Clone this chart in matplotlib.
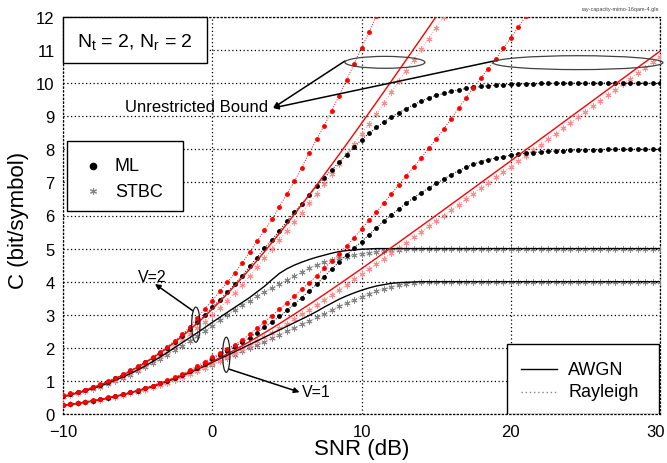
import numpy as np
import matplotlib
matplotlib.use("Agg")
import matplotlib.pyplot as plt
import matplotlib.transforms as mtransforms
from matplotlib.patches import Rectangle, Ellipse

plt.rcParams['font.family'] = ['Liberation Sans', 'DejaVu Sans']
plt.rcParams['mathtext.fontset'] = 'custom'
plt.rcParams['mathtext.rm'] = 'Liberation Sans'
plt.rcParams['mathtext.it'] = 'Liberation Sans:italic'

# ---------------- data ----------------
snr_db = np.arange(-10, 30.5, 0.5)

# V=2 group
v2_unres_ray_ml = [0.56, 0.62, 0.67, 0.74, 0.82, 0.90, 0.99, 1.09, 1.20, 1.32, 1.44, 1.58, 1.72, 1.87,
                   2.04, 2.22, 2.41, 2.63, 2.90, 3.18, 3.43, 3.71, 3.98, 4.25, 4.57, 4.89, 5.22, 5.56,
                   5.88, 6.27, 6.65, 7.03, 7.45, 7.89, 8.31, 8.72, 9.17, 9.62, 10.10, 10.58, 11.07,
                   11.54, 12.03]
v2_unres_awgn = [0.526, 0.584, 0.648, 0.718, 0.794, 0.878, 0.968, 1.068, 1.174, 1.290, 1.414, 1.548,
                 1.690, 1.842, 2.004, 2.174, 2.356, 2.546, 2.744, 2.952, 3.170, 3.396, 3.630, 3.872,
                 4.120, 4.376, 4.638, 4.908, 5.182, 5.460, 5.746, 6.034, 6.328, 6.624, 6.924, 7.228,
                 7.536, 7.844, 8.156, 8.470, 8.784, 9.102, 9.420, 9.742, 10.062, 10.384, 10.708,
                 11.034, 11.358, 11.684, 12.010, 12.338]
v2_unres_ray_stbc = [0.52, 0.58, 0.64, 0.71, 0.78, 0.86, 0.95, 1.04, 1.14, 1.25, 1.37, 1.49, 1.62, 1.76,
                     1.91, 2.06, 2.23, 2.41, 2.59, 2.79, 2.99, 3.21, 3.43, 3.66, 3.91, 4.17, 4.43, 4.71,
                     4.99, 5.26, 5.54, 5.81, 6.08, 6.37, 6.66, 6.95, 7.25, 7.55, 7.86, 8.16, 8.47, 8.77,
                     9.06, 9.39, 9.73, 10.07, 10.38, 10.70, 11.03, 11.35, 11.68, 12.01, 12.33]
v2_ray_ml = [0.54, 0.60, 0.66, 0.73, 0.81, 0.89, 0.98, 1.08, 1.19, 1.30, 1.43, 1.56, 1.70, 1.85, 2.01,
             2.18, 2.37, 2.56, 2.77, 2.99, 3.22, 3.45, 3.68, 3.92, 4.18, 4.46, 4.73, 5.01, 5.27, 5.54,
             5.83, 6.10, 6.36, 6.62, 6.88, 7.13, 7.38, 7.61, 7.84, 8.07, 8.29, 8.48, 8.66, 8.83, 8.98,
             9.11, 9.23, 9.35, 9.46, 9.55, 9.63, 9.69, 9.75, 9.80, 9.84, 9.87, 9.90, 9.92, 9.94, 9.95,
             9.96, 9.97, 9.98, 9.98, 9.99, 9.99, 10.0, 10.0, 10.0, 10.0, 10.0, 10.0, 10.0, 10.0, 10.0,
             10.0, 10.0, 10.0, 10.0, 10.0, 10.0]
v2_awgn = [0.52, 0.58, 0.64, 0.70, 0.77, 0.85, 0.93, 1.02, 1.12, 1.22, 1.33, 1.45, 1.58, 1.72, 1.86,
           2.01, 2.16, 2.31, 2.46, 2.61, 2.77, 2.92, 3.07, 3.22, 3.37, 3.52, 3.69, 3.86, 4.06, 4.25,
           4.39, 4.50, 4.59, 4.67, 4.74, 4.80, 4.86, 4.91, 4.94, 4.96, 4.98, 4.99, 5.0, 5.0, 5.0, 5.0,
           5.0, 5.0, 5.0, 5.0, 5.0, 5.0, 5.0, 5.0, 5.0, 5.0, 5.0, 5.0, 5.0, 5.0, 5.0, 5.0, 5.0, 5.0,
           5.0, 5.0, 5.0, 5.0, 5.0, 5.0, 5.0, 5.0, 5.0, 5.0, 5.0, 5.0, 5.0, 5.0, 5.0, 5.0, 5.0]
v2_ray_stbc = [0.51, 0.57, 0.63, 0.69, 0.76, 0.83, 0.91, 1.00, 1.09, 1.19, 1.30, 1.41, 1.53, 1.66,
               1.79, 1.93, 2.07, 2.21, 2.36, 2.51, 2.66, 2.83, 2.99, 3.15, 3.30, 3.43, 3.56, 3.69,
               3.81, 3.93, 4.05, 4.17, 4.29, 4.41, 4.51, 4.59, 4.65, 4.71, 4.76, 4.81, 4.85, 4.88,
               4.91, 4.93, 4.95, 4.97, 4.98, 4.99, 5.0, 5.0, 5.0, 5.0, 5.0, 5.0, 5.0, 5.0, 5.0, 5.0,
               5.0, 5.0, 5.0, 5.0, 5.0, 5.0, 5.0, 5.0, 5.0, 5.0, 5.0, 5.0, 5.0, 5.0, 5.0, 5.0, 5.0,
               5.0, 5.0, 5.0, 5.0, 5.0, 5.0]

# V=1 group
v1_unres_ray_ml = [0.27, 0.30, 0.33, 0.37, 0.41, 0.45, 0.50, 0.55, 0.60, 0.66, 0.72, 0.79, 0.86, 0.94,
                   1.03, 1.12, 1.22, 1.33, 1.45, 1.58, 1.71, 1.84, 1.97, 2.09, 2.24, 2.41, 2.59, 2.78,
                   2.97, 3.16, 3.36, 3.56, 3.77, 3.97, 4.18, 4.40, 4.62, 4.85, 5.08, 5.33, 5.59, 5.85,
                   6.10, 6.38, 6.65, 6.93, 7.20, 7.47, 7.74, 8.03, 8.30, 8.61, 8.92, 9.24, 9.55, 9.86,
                   10.15, 10.44, 10.73, 11.05, 11.36, 11.69, 12.02]
v1_unres_awgn = [0.263, 0.292, 0.324, 0.359, 0.397, 0.439, 0.484, 0.534, 0.587, 0.645, 0.707, 0.774,
                 0.845, 0.921, 1.002, 1.087, 1.178, 1.273, 1.372, 1.476, 1.585, 1.698, 1.815, 1.936,
                 2.060, 2.188, 2.319, 2.454, 2.591, 2.730, 2.873, 3.017, 3.164, 3.312, 3.462, 3.614,
                 3.768, 3.922, 4.078, 4.235, 4.392, 4.551, 4.710, 4.871, 5.031, 5.192, 5.354, 5.517,
                 5.679, 5.842, 6.005, 6.169, 6.333, 6.497, 6.662, 6.826, 6.991, 7.156, 7.321, 7.486,
                 7.651, 7.817, 7.982, 8.147, 8.313, 8.478, 8.644, 8.810, 8.976, 9.142, 9.307, 9.473,
                 9.639, 9.805, 9.970, 10.136, 10.303, 10.469, 10.635, 10.801, 10.967]
v1_unres_ray_stbc = [0.26, 0.29, 0.32, 0.35, 0.39, 0.43, 0.47, 0.52, 0.57, 0.62, 0.68, 0.74, 0.81, 0.88,
                     0.95, 1.03, 1.12, 1.21, 1.30, 1.40, 1.51, 1.61, 1.72, 1.84, 1.96, 2.08, 2.20, 2.33,
                     2.46, 2.59, 2.73, 2.87, 3.01, 3.15, 3.30, 3.45, 3.60, 3.75, 3.91, 4.07, 4.22, 4.38,
                     4.54, 4.70, 4.86, 5.02, 5.18, 5.35, 5.51, 5.67, 5.84, 6.00, 6.16, 6.33, 6.49, 6.66,
                     6.82, 6.99, 7.15, 7.32, 7.48, 7.65, 7.81, 7.98, 8.14, 8.31, 8.47, 8.64, 8.81, 8.97,
                     9.14, 9.30, 9.47, 9.63, 9.80, 9.97, 10.13, 10.30, 10.46, 10.63, 10.80]
v1_ray_ml = [0.27, 0.30, 0.33, 0.36, 0.40, 0.44, 0.49, 0.54, 0.59, 0.65, 0.71, 0.78, 0.85, 0.93, 1.01,
             1.10, 1.19, 1.29, 1.40, 1.52, 1.65, 1.78, 1.91, 2.04, 2.17, 2.31, 2.46, 2.62, 2.78, 2.95,
             3.13, 3.32, 3.52, 3.72, 3.93, 4.15, 4.38, 4.60, 4.81, 5.01, 5.21, 5.42, 5.63, 5.83, 6.02,
             6.20, 6.37, 6.54, 6.69, 6.83, 6.97, 7.10, 7.23, 7.35, 7.46, 7.55, 7.63, 7.69, 7.74, 7.78,
             7.82, 7.85, 7.88, 7.90, 7.92, 7.94, 7.95, 7.96, 7.97, 7.98, 7.98, 7.99, 7.99, 8.0, 8.0,
             8.0, 8.0, 8.0, 8.0, 8.0, 8.0]
v1_awgn = [0.26, 0.29, 0.32, 0.36, 0.39, 0.43, 0.48, 0.53, 0.58, 0.64, 0.70, 0.76, 0.83, 0.91, 0.99,
           1.07, 1.16, 1.25, 1.35, 1.45, 1.56, 1.67, 1.77, 1.88, 1.99, 2.10, 2.21, 2.32, 2.43, 2.54,
           2.65, 2.76, 2.87, 2.98, 3.10, 3.23, 3.35, 3.47, 3.57, 3.66, 3.74, 3.81, 3.87, 3.91, 3.95,
           3.97, 3.98, 3.99, 4.0, 4.0, 4.0, 4.0, 4.0, 4.0, 4.0, 4.0, 4.0, 4.0, 4.0, 4.0, 4.0, 4.0,
           4.0, 4.0, 4.0, 4.0, 4.0, 4.0, 4.0, 4.0, 4.0, 4.0, 4.0, 4.0, 4.0, 4.0, 4.0, 4.0, 4.0, 4.0, 4.0]
v1_ray_stbc = [0.26, 0.29, 0.32, 0.35, 0.39, 0.43, 0.47, 0.52, 0.57, 0.62, 0.68, 0.74, 0.81, 0.88,
               0.95, 1.03, 1.11, 1.20, 1.29, 1.39, 1.49, 1.59, 1.69, 1.79, 1.89, 1.99, 2.09, 2.19,
               2.29, 2.40, 2.50, 2.60, 2.71, 2.81, 2.92, 3.03, 3.14, 3.25, 3.35, 3.45, 3.55, 3.64,
               3.71, 3.78, 3.84, 3.89, 3.93, 3.96, 3.98, 3.99, 4.0, 4.0, 4.0, 4.0, 4.0, 4.0, 4.0, 4.0,
               4.0, 4.0, 4.0, 4.0, 4.0, 4.0, 4.0, 4.0, 4.0, 4.0, 4.0, 4.0, 4.0, 4.0, 4.0, 4.0, 4.0,
               4.0, 4.0, 4.0, 4.0, 4.0, 4.0]

x_ticks = [-10, 0, 10, 20, 30]
y_ticks = list(range(0, 13))

# ---------------- styles ----------------
RED = '#ff0000'
PINK = '#ff8c8c'
GRAY = '#858585'
BLACK = '#000000'
dot_kw = dict(marker='o', markersize=3.5, markeredgewidth=0, linestyle=(0, (1, 1.6)), linewidth=0.7)
star_kw = dict(marker=(6, 2, 0), markersize=4.3, markeredgewidth=0.7, linestyle=(0, (1, 1.6)),
               linewidth=0.7)

fig = plt.figure(figsize=(6.67, 4.64), dpi=100)
ax = fig.add_axes([63 / 667, 1 - 415 / 464, 597 / 667, 397 / 464])


def xs(arr):
    return snr_db[:len(arr)]


# stars (STBC)
for arr in (v1_ray_stbc, v2_ray_stbc):
    ax.plot(xs(arr), arr, color=GRAY, markeredgecolor=GRAY, zorder=3, **star_kw)
for arr in (v1_unres_ray_stbc, v2_unres_ray_stbc):
    ax.plot(xs(arr), arr, color=PINK, markeredgecolor=PINK, zorder=3, **star_kw)
# black solid (AWGN)
for arr in (v1_awgn, v2_awgn):
    ax.plot(xs(arr), arr, color=BLACK, linewidth=1.0, zorder=4)
# dots (ML)
for arr in (v1_ray_ml, v2_ray_ml):
    ax.plot(xs(arr), arr, color=BLACK, markerfacecolor=BLACK, zorder=5, **dot_kw)
for arr in (v1_unres_ray_ml, v2_unres_ray_ml):
    ax.plot(xs(arr), arr, color=RED, markerfacecolor=RED, zorder=5, **dot_kw)
# red solid (AWGN unrestricted)
for arr in (v1_unres_awgn, v2_unres_awgn):
    ax.plot(xs(arr), arr, color=RED, linewidth=1.0, zorder=6)

ax.set_xlim(-10, 30)
ax.set_ylim(0, 12)
ax.set_xticks(x_ticks)
ax.set_yticks(y_ticks)
ax.tick_params(length=0, labelsize=12)
ax.tick_params(axis='x', pad=7)
ax.tick_params(axis='y', pad=6)
ax.grid(True, linestyle=(0, (1, 2)), color='black', linewidth=0.9)
for sp in ax.spines.values():
    sp.set_linestyle((0, (1, 2)))
    sp.set_linewidth(0.9)

# keep the last x tick label ("30") inside the picture
last_lbl = ax.get_xticklabels()[-1]
last_lbl.set_transform(last_lbl.get_transform()
                       + mtransforms.ScaledTranslation(-4 / 100, 0, fig.dpi_scale_trans))

ax.set_xlabel('SNR (dB)', fontsize=16)
ax.xaxis.set_label_coords(0.5, -0.087)
ax.xaxis.label.set_va('center')
ax.set_ylabel('C (bit/symbol)', fontsize=16)
ax.yaxis.set_label_coords(-0.075, 0.49)
ax.yaxis.label.set_va('center')

# ---------------- boxes / legends ----------------
ax.add_patch(Rectangle((-10, 10.61), 9.65, 1.39, facecolor='white', edgecolor='black',
                       linewidth=1.0, zorder=10, clip_on=False))
ax.text(-5.2, 11.28, r'N$_{\mathrm{t}}$ = 2, N$_{\mathrm{r}}$ = 2', fontsize=14,
        ha='center', va='center', zorder=11)

ax.add_patch(Rectangle((-9.75, 6.13), 7.8, 2.11, facecolor='white', edgecolor='black',
                       linewidth=1.0, zorder=10))
ax.plot([-7.99], [7.50], marker='o', markersize=4.5, color=BLACK, zorder=11)
ax.plot([-7.99], [6.74], marker=(6, 2, 0), markersize=5.0, markeredgewidth=0.8,
        color=GRAY, zorder=11)
ax.text(-6.52, 7.50, 'ML', fontsize=13, ha='left', va='center', zorder=11)
ax.text(-6.52, 6.74, 'STBC', fontsize=13, ha='left', va='center', zorder=11)

ax.add_patch(Rectangle((19.75, 0.0), 10.18, 2.12, facecolor='white', edgecolor='black',
                       linewidth=1.0, zorder=10))
ax.plot([20.69, 23.1], [1.36, 1.36], color=BLACK, linewidth=1.0, zorder=11)
ax.plot([20.69, 23.1], [0.67, 0.67], color=GRAY, linewidth=1.0, linestyle=(0, (1, 2)), zorder=11)
ax.text(23.86, 1.36, 'AWGN', fontsize=13, ha='left', va='center', zorder=11)
ax.text(23.86, 0.67, 'Rayleigh', fontsize=13, ha='left', va='center', zorder=11)

# ---------------- annotations ----------------
arrow = dict(arrowstyle='-|>', color='black', linewidth=1.1, mutation_scale=8, shrinkA=0, shrinkB=0)
ax.text(3.75, 9.28, 'Unrestricted Bound', fontsize=12, ha='right', va='center', zorder=12)
ax.annotate('', xy=(4.07, 9.25), xytext=(8.89, 10.67), arrowprops=arrow, zorder=12)
ax.annotate('', xy=(4.07, 9.25), xytext=(18.88, 10.67), arrowprops=arrow, zorder=12)
ax.add_patch(Ellipse((11.57, 10.63), 5.36, 0.36, facecolor='none', edgecolor='#404040',
                     linewidth=0.9, zorder=12))
ax.add_patch(Ellipse((24.5, 10.62), 11.39, 0.42, facecolor='none', edgecolor='#404040',
                     linewidth=0.9, zorder=12, clip_on=False))

ax.text(-4.0, 4.16, 'V=2', fontsize=11.5, ha='center', va='center', zorder=12)
ax.annotate('', xy=(-3.84, 3.93), xytext=(-1.3, 3.12), arrowprops=arrow, zorder=12)
ax.add_patch(Ellipse((-1.10, 2.70), 0.56, 1.06, facecolor='none', edgecolor='#202020',
                     linewidth=0.9, zorder=12))

ax.text(6.94, 0.68, 'V=1', fontsize=11.5, ha='center', va='center', zorder=12)
ax.annotate('', xy=(5.85, 0.66), xytext=(1.1, 1.36), arrowprops=arrow, zorder=12)
ax.add_patch(Ellipse((0.94, 1.79), 0.49, 1.06, facecolor='none', edgecolor='#202020',
                     linewidth=0.9, zorder=12))

fig.text(659 / 667, 1 - 9 / 464, 'ray-capacity-mimo-16qam-4.gle', fontsize=4, color='#444444',
         ha='right', va='center')

fig.savefig('out.png', dpi=100)
